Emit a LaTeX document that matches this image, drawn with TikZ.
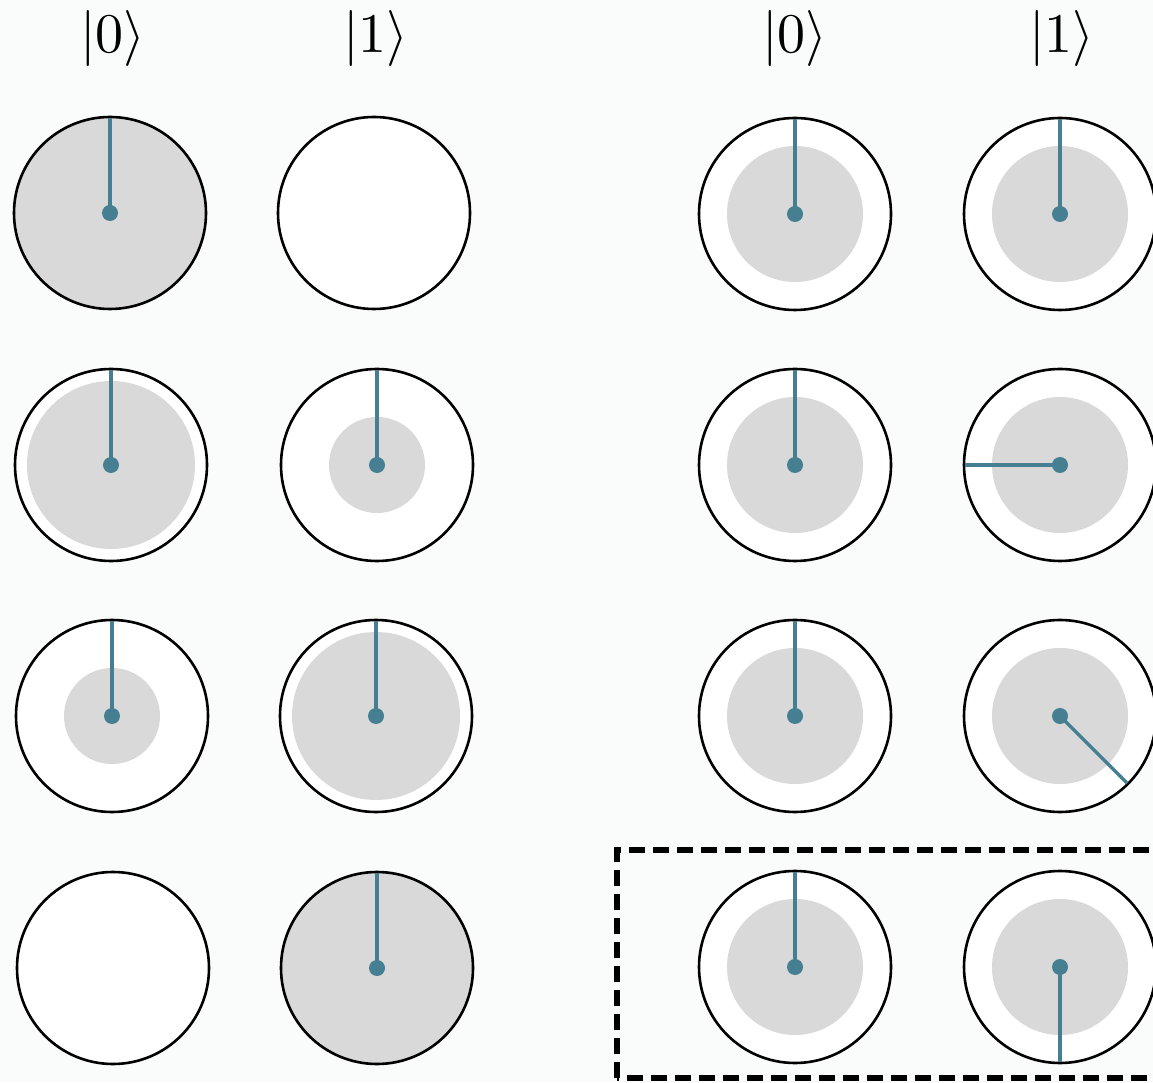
\documentclass[tikz,border=0pt]{standalone}
\usepackage{graphicx}
\definecolor{bg}{HTML}{FAFCFC}
\definecolor{hand}{HTML}{457F91}
\definecolor{disk}{HTML}{D9D9D9}
\newcommand\ket[1]{\scalebox{5.6}{$|#1\rangle$}}
\tikzset{
  ring/.style={draw=black, line width=2.6pt},
  handline/.style={draw=hand, line width=3.4pt},
  ketlabel/.style={anchor=base, inner sep=0pt},
  frame/.style={draw=black, line width=5.4pt, dash pattern=on 16pt off 8pt}
}
% #1 name, #2 x, #3 y, #4 radius of the grey disk, #5 hand angle
\newcommand\qdial[5]{%
  \coordinate (#1) at (#2,#3);
  \fill[white] (#1) circle[radius=96];
  \fill[disk] (#1) circle[radius=#4];
  \draw[ring] (#1) circle[radius=96];
  \draw[handline] (#1) -- ++(#5:95);
  \fill[hand] (#1) circle[radius=8];
}
% empty dial without a hand
\newcommand\edial[3]{%
  \coordinate (#1) at (#2,#3);
  \draw[ring, fill=white] (#1) circle[radius=96];
}
\begin{document}
\begin{tikzpicture}[x=1pt, y=1pt]
\clip (0,0) rectangle (1153,1082);
\fill[bg] (0,0) rectangle (1153,1082);

% column headings
\node[ketlabel] (kA0) at (113,1029) {\ket{0}};
\node[ketlabel] (kA1) at (376,1029) {\ket{1}};
\node[ketlabel] (kB0) at (795,1029) {\ket{0}};
\node[ketlabel] (kB1) at (1062,1029) {\ket{1}};

% left block
\qdial{a11}{110}{869}{96}{90}
\edial{a12}{374}{869}
\qdial{a21}{111}{617}{84}{90}
\qdial{a22}{377}{617}{48}{90}
\qdial{a31}{112}{366}{48}{90}
\qdial{a32}{376}{366}{84}{90}
\edial{a41}{113}{114}
\qdial{a42}{377}{114}{96}{90}

% right block
\qdial{b11}{795}{868}{68}{90}
\qdial{b12}{1060}{868}{68}{90}
\qdial{b21}{795}{617}{68}{90}
\qdial{b22}{1060}{617}{68}{180}
\qdial{b31}{795}{366}{68}{90}
\qdial{b32}{1060}{366}{68}{-45}
\qdial{b41}{795}{115}{68}{90}
\qdial{b42}{1060}{115}{68}{-90}

% highlighted last row
\coordinate (fr1) at (617,4);
\coordinate (fr2) at (1170,232);
\draw[frame] (fr1) rectangle (fr2);
\end{tikzpicture}
\end{document}
